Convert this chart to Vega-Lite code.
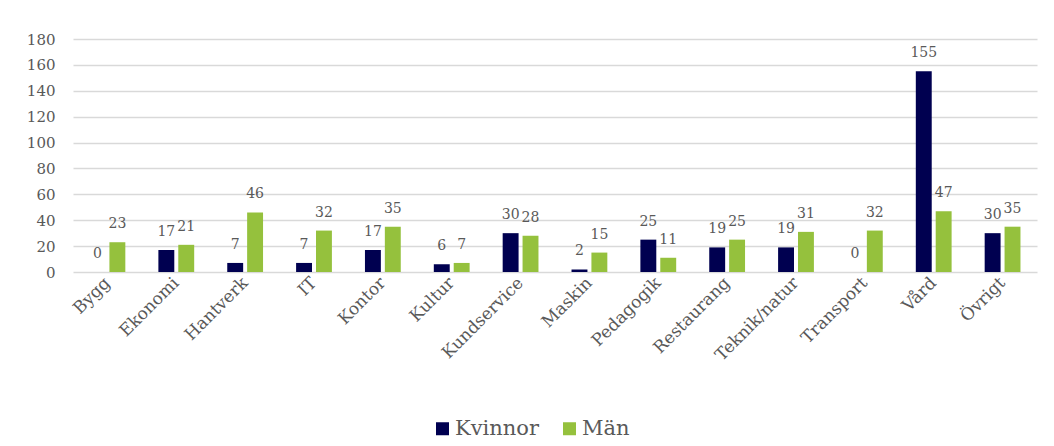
{
  "$schema": "https://vega.github.io/schema/vega-lite/v6.json",
  "width": 964,
  "height": 233,
  "autosize": {"type": "none"},
  "padding": {"left": 73, "top": 39, "right": 17, "bottom": 174},
  "background": "white",
  "config": {
    "font": "DejaVu Serif",
    "view": {"stroke": null},
    "axis": {"labelColor": "#595959", "labelFont": "DejaVu Serif"}
  },
  "data": {
    "values": [
      {"yrke": "Bygg", "kon": "Kvinnor", "antal": 0},
      {"yrke": "Bygg", "kon": "Män", "antal": 23},
      {"yrke": "Ekonomi", "kon": "Kvinnor", "antal": 17},
      {"yrke": "Ekonomi", "kon": "Män", "antal": 21},
      {"yrke": "Hantverk", "kon": "Kvinnor", "antal": 7},
      {"yrke": "Hantverk", "kon": "Män", "antal": 46},
      {"yrke": "IT", "kon": "Kvinnor", "antal": 7},
      {"yrke": "IT", "kon": "Män", "antal": 32},
      {"yrke": "Kontor", "kon": "Kvinnor", "antal": 17},
      {"yrke": "Kontor", "kon": "Män", "antal": 35},
      {"yrke": "Kultur", "kon": "Kvinnor", "antal": 6},
      {"yrke": "Kultur", "kon": "Män", "antal": 7},
      {"yrke": "Kundservice", "kon": "Kvinnor", "antal": 30},
      {"yrke": "Kundservice", "kon": "Män", "antal": 28},
      {"yrke": "Maskin", "kon": "Kvinnor", "antal": 2},
      {"yrke": "Maskin", "kon": "Män", "antal": 15},
      {"yrke": "Pedagogik", "kon": "Kvinnor", "antal": 25},
      {"yrke": "Pedagogik", "kon": "Män", "antal": 11},
      {"yrke": "Restaurang", "kon": "Kvinnor", "antal": 19},
      {"yrke": "Restaurang", "kon": "Män", "antal": 25},
      {"yrke": "Teknik/natur", "kon": "Kvinnor", "antal": 19},
      {"yrke": "Teknik/natur", "kon": "Män", "antal": 31},
      {"yrke": "Transport", "kon": "Kvinnor", "antal": 0},
      {"yrke": "Transport", "kon": "Män", "antal": 32},
      {"yrke": "Vård", "kon": "Kvinnor", "antal": 155},
      {"yrke": "Vård", "kon": "Män", "antal": 47},
      {"yrke": "Övrigt", "kon": "Kvinnor", "antal": 30},
      {"yrke": "Övrigt", "kon": "Män", "antal": 35}
    ]
  },
  "encoding": {
    "x": {
      "field": "yrke",
      "type": "nominal",
      "sort": null,
      "title": null,
      "scale": {"paddingInner": 0.48, "paddingOuter": 0.24},
      "axis": {
        "labelAngle": -45,
        "labelAlign": "right",
        "labelBaseline": "middle",
        "labelFontSize": 17,
        "labelPadding": 8,
        "ticks": false,
        "domain": false,
        "grid": false
      }
    },
    "xOffset": {
      "field": "kon",
      "type": "nominal",
      "sort": ["Kvinnor", "Män"],
      "scale": {"paddingInner": 0.2}
    },
    "y": {
      "field": "antal",
      "type": "quantitative",
      "title": null,
      "scale": {"domain": [0, 180], "nice": false},
      "axis": {
        "values": [0, 20, 40, 60, 80, 100, 120, 140, 160, 180],
        "labelFontSize": 15,
        "labelPadding": 18,
        "ticks": false,
        "domain": false,
        "grid": true,
        "gridColor": "#d9d9d9",
        "gridWidth": 1.5
      }
    }
  },
  "layer": [
    {
      "mark": {"type": "bar"},
      "encoding": {
        "color": {
          "field": "kon",
          "type": "nominal",
          "sort": ["Kvinnor", "Män"],
          "scale": {"domain": ["Kvinnor", "Män"], "range": ["#000050", "#95c13d"]},
          "legend": {
            "title": null,
            "orient": "none",
            "direction": "horizontal",
            "legendX": 359,
            "legendY": 379,
            "symbolType": "square",
            "symbolSize": 169,
            "symbolStrokeWidth": 0,
            "labelFontSize": 21,
            "labelColor": "#595959",
            "labelFont": "DejaVu Serif",
            "columnPadding": 20,
            "labelOffset": 2
          }
        }
      }
    },
    {
      "mark": {"type": "text", "baseline": "middle", "dy": -18, "fontSize": 14, "color": "#595959", "font": "DejaVu Serif"},
      "encoding": {
        "text": {"field": "antal", "type": "quantitative"}
      }
    }
  ]
}
